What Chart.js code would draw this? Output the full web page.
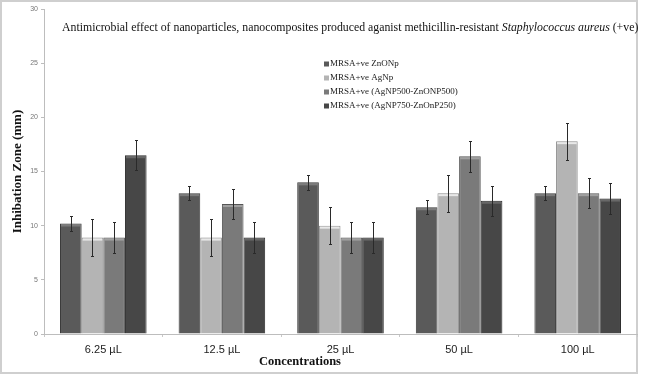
<!DOCTYPE html>
<html>
<head>
<meta charset="utf-8">
<script src="https://cdn.jsdelivr.net/npm/chart.js@4.4.0/dist/chart.umd.min.js"></script>
<style>
  body { margin: 0; background: #fff; }
  #wrap { width: 645px; height: 386px; }
</style>
</head>
<body>
<div id="wrap"><canvas id="zoneChart"></canvas></div>
<script>
// categories and series
const concentrations = ['6.25 µL', '12.5 µL', '25 µL', '50 µL', '100 µL'];
const seriesNames = [
    'MRSA+ve ZnONp',
    'MRSA+ve AgNp',
    'MRSA+ve (AgNP500-ZnONP500)',
    'MRSA+ve (AgNP750-ZnOnP250)'
];
const znoNp   = [10.2, 13.0, 14.0, 11.7, 13.0];
const agNp    = [8.9, 8.9, 10.0, 13.0, 17.8];
const agZn500 = [8.9, 12.0, 8.9, 16.4, 13.0];
const agZn750 = [16.5, 8.9, 8.9, 12.3, 12.5];

// error bar half-widths
const znoErr     = [0.7, 0.65, 0.7, 0.65, 0.65];
const agErr      = [1.7, 1.7, 1.7, 1.7, 1.7];
const agZn500Err = [1.4, 1.4, 1.4, 1.4, 1.4];
const agZn750Err = [1.4, 1.4, 1.4, 1.4, 1.4];

const yTickStep = 5;
const yMax = 30;

const chartTitle = 'Antimicrobial effect of nanoparticles, nanocomposites produced aganist methicillin-resistant ';
const chartTitleItalic = 'Staphylococcus aureus';
const chartTitleEnd = ' (+ve)';

const serif = "'Liberation Serif', 'Times New Roman', serif";
const sans = "'Liberation Sans', Arial, sans-serif";

function makeSet(label, data, errors, fill, edge, light) {
    return {
        label: label,
        data: data,
        errors: errors,
        backgroundColor: fill,
        borderColor: edge,
        highlight: light,
        borderWidth: 1,
        borderSkipped: 'bottom',
        categoryPercentage: 0.73,
        barPercentage: 1.0
    };
}

// frame around the whole figure
const frame = {
    id: 'frame',
    beforeDraw(chart) {
        const ctx = chart.ctx;
        ctx.save();
        ctx.fillStyle = '#fff';
        ctx.fillRect(0, 0, chart.width, chart.height);
        ctx.strokeStyle = '#cfcfcf';
        ctx.lineWidth = 2;
        ctx.strokeRect(1, 1, 636, 372);
        ctx.restore();
    }
};

// bar highlights and error bars
const errorBars = {
    id: 'errorBars',
    afterDatasetsDraw(chart) {
        const ctx = chart.ctx;
        const y = chart.scales.y;
        ctx.save();
        chart.data.datasets.forEach((ds, di) => {
            const meta = chart.getDatasetMeta(di);
            meta.data.forEach((bar, i) => {
                ctx.fillStyle = ds.highlight;
                ctx.fillRect(bar.x - bar.width / 2 + 1, bar.y + 1, bar.width - 2, 2);

                const v = ds.data[i], e = ds.errors[i];
                const top = Math.round(y.getPixelForValue(v + e)) + 0.5;
                const bot = Math.round(y.getPixelForValue(v - e)) + 0.5;
                const x = Math.round(bar.x) + 0.5;
                ctx.strokeStyle = '#2a2a2a';
                ctx.lineWidth = 1;
                ctx.beginPath();
                ctx.moveTo(x, top); ctx.lineTo(x, bot);
                ctx.moveTo(x - 1.5, top); ctx.lineTo(x + 1.5, top);
                ctx.moveTo(x - 1.5, bot); ctx.lineTo(x + 1.5, bot);
                ctx.stroke();
            });
        });
        ctx.restore();
    }
};

// title, legend and x axis caption placed like the original figure
const labels = {
    id: 'labels',
    afterDraw(chart) {
        const ctx = chart.ctx;
        ctx.save();
        ctx.fillStyle = '#111';
        ctx.textBaseline = 'middle';

        let x = 62;
        ctx.font = '11.8px ' + serif;
        ctx.fillText(chartTitle, x, 28);
        x += ctx.measureText(chartTitle).width;
        ctx.font = 'italic 11.8px ' + serif;
        ctx.fillText(chartTitleItalic, x, 28);
        x += ctx.measureText(chartTitleItalic).width;
        ctx.font = '11.8px ' + serif;
        ctx.fillText(chartTitleEnd, x, 28);

        ctx.font = '9px ' + serif;
        chart.data.datasets.forEach((ds, i) => {
            const ly = 64 + i * 14;
            ctx.fillStyle = ds.backgroundColor;
            ctx.fillRect(324, ly - 2.5, 5, 5);
            ctx.fillStyle = '#222';
            ctx.fillText(ds.label, 330, ly);
        });

        ctx.font = 'bold 12.5px ' + serif;
        ctx.textAlign = 'center';
        ctx.fillStyle = '#111';
        ctx.fillText('Concentrations', 300, 362);
        ctx.restore();
    }
};

new Chart(document.getElementById('zoneChart'), {
    type: 'bar',
    data: {
        labels: concentrations,
        datasets: [
            makeSet(seriesNames[0], znoNp, znoErr, '#5a5a5a', '#3a3a3a', '#7c7c7c'),
            makeSet(seriesNames[1], agNp, agErr, '#b4b4b4', '#8c8c8c', '#e8e8e8'),
            makeSet(seriesNames[2], agZn500, agZn500Err, '#7a7a7a', '#555555', '#a0a0a0'),
            makeSet(seriesNames[3], agZn750, agZn750Err, '#474747', '#2c2c2c', '#686868')
        ]
    },
    options: {
        responsive: true,
        maintainAspectRatio: false,
        animation: false,
        devicePixelRatio: 1,
        layout: { padding: { top: 9, right: 8, bottom: 0, left: 0 } },
        plugins: {
            legend: { display: false },
            tooltip: { enabled: false }
        },
        scales: {
            x: {
                afterFit: s => { s.height = 52; },
                grid: {
                    offset: true,
                    drawOnChartArea: false,
                    drawTicks: true,
                    tickLength: 3,
                    color: '#c8c8c8'
                },
                border: { color: '#bdbdbd', width: 1 },
                ticks: {
                    color: '#222',
                    padding: 6,
                    font: { family: sans, size: 11 }
                }
            },
            y: {
                min: 0,
                max: yMax,
                afterFit: s => { s.width = 44; },
                grid: {
                    drawOnChartArea: false,
                    drawTicks: true,
                    tickLength: 3,
                    color: '#bdbdbd'
                },
                border: { color: '#bdbdbd', width: 1 },
                ticks: {
                    stepSize: yTickStep,
                    color: '#777',
                    padding: 3,
                    font: { family: sans, size: 7 }
                },
                title: {
                    display: true,
                    text: 'Inhibation Zone (mm)',
                    color: '#111',
                    padding: { top: 10, bottom: 0 },
                    font: { family: serif, size: 13, weight: 'bold' }
                }
            }
        }
    },
    plugins: [frame, errorBars, labels]
});
</script>
</body>
</html>
